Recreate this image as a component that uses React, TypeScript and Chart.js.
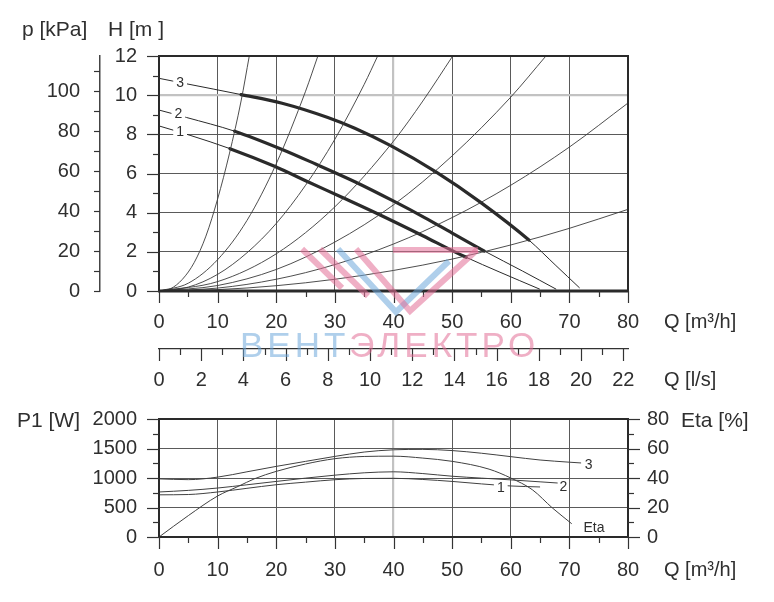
import React, { useEffect, useRef } from "react";
import { Chart, registerables } from "chart.js";

Chart.register(...registerables);

const FONT_FAMILY = '"Liberation Sans", Arial, Helvetica, sans-serif';
const INK = "#2f2f2f";
const GRID = "#5a5a5a";
const GRID_LIGHT = "#c2c2c2";

// ---------------- axes ----------------
const Q_M3H_TICKS = [0, 10, 20, 30, 40, 50, 60, 70, 80];
const Q_LS_TICKS = [0, 2, 4, 6, 8, 10, 12, 14, 16, 18, 20, 22];
const H_TICKS = [0, 2, 4, 6, 8, 10, 12];
const P_KPA_TICKS = [0, 20, 40, 60, 80, 100];
const P1_TICKS = [0, 500, 1000, 1500, 2000];
const ETA_TICKS = [0, 20, 40, 60, 80];
const Q_MAX = 80;
const H_MAX = 12;
const P1_MAX = 2000;
const ETA_MAX = 80;
const KPA_PER_M = 9.81;
const M3H_PER_LS = 3.6;
const LIGHT_GRID_Q = 40;
const LIGHT_GRID_H = 10;

// ---------------- pump curves H [m] vs Q [m3/h] ----------------
const PUMP1_Q = [0, 5.3, 12.1, 19.7, 25.1, 31.1, 37.1, 45, 50.1, 52.4, 58, 64.9];
const PUMP1_H = [8.43, 7.95, 7.27, 6.37, 5.62, 4.8, 3.97, 2.82, 2.05, 1.72, 0.98, 0.1];
const PUMP1_THICK = [12.1, 52.4];

const PUMP2_Q = [0, 4.7, 12.9, 20.9, 26.8, 33.4, 40.2, 45.3, 50, 55.5, 62, 67.7];
const PUMP2_H = [9.24, 8.86, 8.16, 7.24, 6.47, 5.58, 4.56, 3.75, 2.96, 2.04, 1.02, 0.1];
const PUMP2_THICK = [12.9, 55.5];

const PUMP3_Q = [0, 4.7, 14, 21, 28.8, 33.4, 39.6, 47.3, 54.8, 63.1, 67.7, 71.7];
const PUMP3_H = [10.86, 10.58, 10.03, 9.59, 8.86, 8.31, 7.41, 6.07, 4.54, 2.6, 1.3, 0.17];
const PUMP3_THICK = [14, 63.1];

// ---------------- system curves (thin fan from origin) ----------------
const SYS1_Q = [0, 2, 4, 6, 8, 10, 12, 14, 15.4];
const SYS1_H = [0, 0.12, 0.6, 1.45, 2.8, 4.7, 7.0, 9.7, 12];
const SYS2_Q = [0, 5, 10, 15, 20, 25, 27.1];
const SYS2_H = [0, 0.4, 1.6, 3.6, 6.5, 10.2, 12];
const SYS3_Q = [0, 5, 10, 15, 20, 25, 30, 35, 37.3];
const SYS3_H = [0, 0.2, 0.85, 1.95, 3.45, 5.4, 7.75, 10.55, 12];
const SYS4_Q = [0, 10, 20, 30, 40, 45, 50.1];
const SYS4_H = [0, 0.48, 1.9, 4.3, 7.65, 9.7, 12];
const SYS5_Q = [0, 10, 20, 30, 40, 50, 60, 66];
const SYS5_H = [0, 0.28, 1.1, 2.5, 4.4, 6.9, 9.9, 12];
const SYS6_Q = [0, 10, 20, 30, 40, 50, 60, 70, 80];
const SYS6_H = [0, 0.15, 0.6, 1.35, 2.4, 3.75, 5.4, 7.35, 9.6];
const SYS7_Q = [0, 10, 20, 30, 40, 50, 60, 70, 80];
const SYS7_H = [0, 0.07, 0.27, 0.6, 1.05, 1.63, 2.35, 3.2, 4.17];

// ---------------- power P1 [W] and efficiency ----------------
const P1_3_Q = [0, 5, 10, 15, 20, 25, 30, 35, 40, 45, 50, 55, 60, 65, 70, 72];
const P1_3_W = [985, 972, 1015, 1105, 1197, 1282, 1366, 1440, 1478, 1485, 1465, 1420, 1362, 1305, 1268, 1255];
const P1_2_Q = [0, 5, 10, 15, 20, 25, 30, 35, 40, 45, 50, 55, 60, 65, 68];
const P1_2_W = [763, 790, 830, 885, 942, 998, 1048, 1088, 1105, 1075, 1030, 998, 968, 935, 915];
const P1_1_Q = [0, 5, 10, 15, 20, 25, 30, 35, 40, 45, 50, 55, 60, 65];
const P1_1_W = [715, 720, 763, 825, 886, 930, 971, 992, 995, 975, 942, 900, 865, 848];
const ETA_Q = [0, 5, 10, 13.5, 16.3, 20, 25, 30, 35, 40, 45, 50, 56.3, 60, 63.7, 67.1, 70.4];
const ETA_PCT = [0, 14.5, 27.8, 34.3, 39.5, 44.5, 49.5, 53.1, 54.6, 54.8, 53.5, 51.3, 46, 40, 32, 19.7, 9];

// ---------------- curve labels ----------------
const TOP_LABEL_TEXT = ["3", "2", "1"];
const TOP_LABEL_Q = [3.6, 3.3, 3.6];
const TOP_LABEL_H = [10.66, 9.06, 8.12];
const BOT_LABEL_TEXT = ["1", "2", "3", "Eta"];
const BOT_LABEL_Q = [58.3, 69.0, 73.3, 72.4];
const BOT_LABEL_V = [840, 858, 1234, 6.5];
const BOT_LABEL_AXIS = ["y", "y", "y", "yEta"];

const WATERMARK_A = "ВЕНТ";
const WATERMARK_B = "ЭЛЕКТРО";

Chart.defaults.font.family = FONT_FAMILY;
Chart.defaults.color = INK;

const pts = (qs: number[], vs: number[]) => qs.map((q, i) => ({ x: q, y: vs[i] }));

function fixedTicks(values: number[]) {
  return (scale: any) => {
    scale.ticks = values.map((v) => ({ value: v }));
  };
}

function fixedSize(size: number) {
  return (s: any) => {
    if (s.isHorizontal()) s.height = size;
    else s.width = size;
    s.paddingTop = 0;
    s.paddingBottom = 0;
    s.paddingLeft = 0;
    s.paddingRight = 0;
  };
}

type TickDef = { id: string; step: number; major: number; majorLen: number; minorLen: number; max?: number };

function drawTickMarks(chart: any, defs: TickDef[]) {
  const ctx = chart.ctx;
  ctx.save();
  ctx.strokeStyle = "#333";
  ctx.lineWidth = 1.2;
  for (const d of defs) {
    const s = chart.scales[d.id];
    const hi = d.max ?? s.max;
    const n = Math.floor(hi / d.step + 1e-6);
    for (let i = 0; i <= n; i++) {
      const v = i * d.step;
      const r = v / d.major;
      const major = Math.abs(r - Math.round(r)) < 1e-6;
      const len = major ? d.majorLen : d.minorLen;
      const p = Math.round(s.getPixelForValue(v)) + 0.5;
      ctx.beginPath();
      if (s.position === "left") {
        ctx.moveTo(s.right, p);
        ctx.lineTo(s.right - len, p);
      } else if (s.position === "right") {
        ctx.moveTo(s.left, p);
        ctx.lineTo(s.left + len, p);
      } else {
        ctx.moveTo(p, s.top);
        ctx.lineTo(p, s.top + len);
      }
      ctx.stroke();
    }
  }
  ctx.restore();
}

type CurveLabel = { text: string; x: number; y: number; xId: string; yId: string; align: CanvasTextAlign; bg: boolean };

function drawCurveLabels(chart: any, labels: CurveLabel[], size: number) {
  const ctx = chart.ctx;
  ctx.save();
  ctx.font = `${size}px ${FONT_FAMILY}`;
  ctx.textBaseline = "middle";
  for (const l of labels) {
    const px = chart.scales[l.xId].getPixelForValue(l.x);
    const py = chart.scales[l.yId].getPixelForValue(l.y);
    const w = ctx.measureText(l.text).width;
    const left = l.align === "left" ? px : px - w / 2;
    if (l.bg) {
      ctx.fillStyle = "#ffffff";
      ctx.fillRect(left - 3, py - 5, w + 6, 10);
    }
    ctx.fillStyle = INK;
    ctx.textAlign = l.align;
    ctx.fillText(l.text, px, py + 0.5);
  }
  ctx.restore();
}

function drawText(ctx: CanvasRenderingContext2D, text: string, x: number, y: number, size = 20) {
  ctx.save();
  ctx.font = `${size}px ${FONT_FAMILY}`;
  ctx.fillStyle = INK;
  ctx.textAlign = "left";
  ctx.textBaseline = "middle";
  ctx.fillText(text, x, y);
  ctx.restore();
}

function drawFrame(chart: any, bottomWidth: number) {
  const ctx = chart.ctx;
  const a = chart.chartArea;
  ctx.save();
  ctx.strokeStyle = "#2a2a2a";
  ctx.lineWidth = 2;
  ctx.strokeRect(a.left, a.top, a.right - a.left, a.bottom - a.top);
  ctx.lineWidth = bottomWidth;
  ctx.beginPath();
  ctx.moveTo(a.left - 1, a.bottom);
  ctx.lineTo(a.right + 1, a.bottom);
  ctx.stroke();
  ctx.restore();
}

function drawWatermark(ctx: any) {
  ctx.save();
  const pink = "rgba(226,110,150,0.55)";
  const blue = "rgba(110,168,218,0.55)";
  ctx.lineWidth = 6;
  ctx.lineCap = "butt";
  ctx.lineJoin = "miter";
  const seg = (color: string, p: number[][]) => {
    ctx.strokeStyle = color;
    ctx.beginPath();
    ctx.moveTo(p[0][0], p[0][1]);
    for (let i = 1; i < p.length; i++) ctx.lineTo(p[i][0], p[i][1]);
    ctx.stroke();
  };
  seg(pink, [[302, 249], [342, 288]]);
  seg(pink, [[320, 249], [368, 296]]);
  seg(blue, [[338, 249], [396, 312], [449, 261]]);
  seg(pink, [[356, 249], [410, 311], [477, 250]]);
  seg(pink, [[393, 250], [478, 250]]);
  ctx.font = `35px ${FONT_FAMILY}`;
  ctx.textBaseline = "alphabetic";
  ctx.textAlign = "left";
  try {
    ctx.letterSpacing = "4px";
  } catch (e) {}
  ctx.fillStyle = blue;
  ctx.fillText(WATERMARK_A, 240, 357);
  const w = ctx.measureText(WATERMARK_A).width;
  ctx.fillStyle = pink;
  ctx.fillText(WATERMARK_B, 240 + w, 357);
  ctx.restore();
}

const tickFont = { family: FONT_FAMILY, size: 20 };
const gridQ = {
  drawTicks: false,
  color: (c: any) => (c.tick && c.tick.value === LIGHT_GRID_Q ? GRID_LIGHT : GRID),
  lineWidth: (c: any) => (c.tick && c.tick.value === LIGHT_GRID_Q ? 2.2 : 1),
};

function sysDataset(qs: number[], hs: number[]) {
  return {
    data: pts(qs, hs),
    borderColor: "#3a3a3a",
    borderWidth: 0.9,
    pointRadius: 0,
    cubicInterpolationMode: "monotone",
    xAxisID: "x",
    yAxisID: "y",
  };
}

function pumpDataset(qs: number[], hs: number[], thick: number[]) {
  return {
    data: pts(qs, hs),
    borderColor: "#2a2a2a",
    borderWidth: 1,
    borderCapStyle: "round",
    borderJoinStyle: "round",
    pointRadius: 0,
    cubicInterpolationMode: "monotone",
    xAxisID: "x",
    yAxisID: "y",
    segment: {
      borderWidth: (ctx: any) =>
        ctx.p0.parsed.x >= thick[0] - 1e-6 && ctx.p1.parsed.x <= thick[1] + 1e-6 ? 3.2 : 1,
    },
  };
}

function lowDataset(qs: number[], vs: number[], yId: string) {
  return {
    data: pts(qs, vs),
    borderColor: "#404040",
    borderWidth: 1,
    pointRadius: 0,
    cubicInterpolationMode: "monotone",
    xAxisID: "x",
    yAxisID: yId,
  };
}

const labelTicks = { font: tickFont, color: INK, maxRotation: 0, autoSkip: false, callback: (v: any) => String(v) };

function topConfig(): any {
  const labels: CurveLabel[] = TOP_LABEL_TEXT.map((t, i) => ({
    text: t, x: TOP_LABEL_Q[i], y: TOP_LABEL_H[i], xId: "x", yId: "y", align: "center", bg: true,
  }));
  return {
    type: "line",
    data: {
      datasets: [
        sysDataset(SYS1_Q, SYS1_H),
        sysDataset(SYS2_Q, SYS2_H),
        sysDataset(SYS3_Q, SYS3_H),
        sysDataset(SYS4_Q, SYS4_H),
        sysDataset(SYS5_Q, SYS5_H),
        sysDataset(SYS6_Q, SYS6_H),
        sysDataset(SYS7_Q, SYS7_H),
        pumpDataset(PUMP1_Q, PUMP1_H, PUMP1_THICK),
        pumpDataset(PUMP2_Q, PUMP2_H, PUMP2_THICK),
        pumpDataset(PUMP3_Q, PUMP3_H, PUMP3_THICK),
      ],
    },
    options: {
      animation: false,
      responsive: false,
      devicePixelRatio: 1,
      events: [],
      layout: { padding: { top: 56, right: 146, bottom: 0, left: 0 } },
      plugins: { legend: { display: false }, tooltip: { enabled: false } },
      scales: {
        x: {
          type: "linear", position: "bottom", min: 0, max: Q_MAX,
          afterFit: fixedSize(58),
          afterBuildTicks: fixedTicks(Q_M3H_TICKS),
          ticks: { ...labelTicks, padding: 19 },
          grid: gridQ,
          border: { display: false },
        },
        xls: {
          type: "linear", position: "bottom", min: 0, max: Q_MAX / M3H_PER_LS,
          afterFit: fixedSize(51),
          afterBuildTicks: fixedTicks(Q_LS_TICKS),
          ticks: { ...labelTicks, padding: 19 },
          grid: { drawOnChartArea: false, drawTicks: false },
          border: { display: true, color: "#333", width: 1.3 },
        },
        y: {
          type: "linear", position: "left", weight: 0, min: 0, max: H_MAX,
          afterFit: fixedSize(59),
          afterBuildTicks: fixedTicks(H_TICKS),
          ticks: { ...labelTicks, padding: 22 },
          grid: {
            drawTicks: false,
            color: (c: any) => (c.tick && c.tick.value === LIGHT_GRID_H ? GRID_LIGHT : GRID),
            lineWidth: (c: any) => (c.tick && c.tick.value === LIGHT_GRID_H ? 2.2 : 1),
          },
          border: { display: false },
        },
        yp: {
          type: "linear", position: "left", weight: 1, min: 0, max: H_MAX * KPA_PER_M,
          afterFit: fixedSize(100),
          afterBuildTicks: fixedTicks(P_KPA_TICKS),
          ticks: { ...labelTicks, padding: 20 },
          grid: { drawOnChartArea: false, drawTicks: false },
          border: { display: true, color: "#444", width: 1.5 },
        },
      },
    },
    plugins: [
      {
        id: "topDecor",
        afterDraw(chart: any) {
          const ctx = chart.ctx;
          drawFrame(chart, 3);
          drawTickMarks(chart, [
            { id: "x", step: 5, major: 10, majorLen: 12, minorLen: 6 },
            { id: "xls", step: 1, major: 2, majorLen: 12, minorLen: 6, max: 22 },
            { id: "y", step: 1, major: 2, majorLen: 12, minorLen: 6 },
            { id: "yp", step: 10, major: 20, majorLen: 6, minorLen: 6, max: 110 },
          ]);
          drawCurveLabels(chart, labels, 14);
          drawText(ctx, "p [kPa]", 22, 30, 21);
          drawText(ctx, "H [m ]", 108, 30, 21);
          drawText(ctx, "Q [m³/h]", 664, 322);
          drawText(ctx, "Q [l/s]", 664, 380);
          drawWatermark(ctx);
        },
      },
    ],
  };
}

function bottomConfig(): any {
  const labels: CurveLabel[] = BOT_LABEL_TEXT.map((t, i) => ({
    text: t, x: BOT_LABEL_Q[i], y: BOT_LABEL_V[i], xId: "x", yId: BOT_LABEL_AXIS[i],
    align: t === "Eta" ? "left" : "center", bg: i === 0,
  }));
  return {
    type: "line",
    data: {
      datasets: [
        lowDataset(P1_3_Q, P1_3_W, "y"),
        lowDataset(P1_2_Q, P1_2_W, "y"),
        lowDataset(P1_1_Q, P1_1_W, "y"),
        lowDataset(ETA_Q, ETA_PCT, "yEta"),
      ],
    },
    options: {
      animation: false,
      responsive: false,
      devicePixelRatio: 1,
      events: [],
      layout: { padding: { top: 19, right: 0, bottom: 0, left: 0 } },
      plugins: { legend: { display: false }, tooltip: { enabled: false } },
      scales: {
        x: {
          type: "linear", position: "bottom", min: 0, max: Q_MAX,
          afterFit: fixedSize(65),
          afterBuildTicks: fixedTicks(Q_M3H_TICKS),
          ticks: { ...labelTicks, padding: 21 },
          grid: gridQ,
          border: { display: false },
        },
        y: {
          type: "linear", position: "left", min: 0, max: P1_MAX,
          afterFit: fixedSize(159),
          afterBuildTicks: fixedTicks(P1_TICKS),
          ticks: { ...labelTicks, padding: 22 },
          grid: { drawTicks: false, color: GRID, lineWidth: 1 },
          border: { display: false },
        },
        yEta: {
          type: "linear", position: "right", min: 0, max: ETA_MAX,
          afterFit: fixedSize(146),
          afterBuildTicks: fixedTicks(ETA_TICKS),
          ticks: { ...labelTicks, padding: 19 },
          grid: { drawOnChartArea: false, drawTicks: false },
          border: { display: false },
        },
      },
    },
    plugins: [
      {
        id: "botDecor",
        afterDraw(chart: any) {
          const ctx = chart.ctx;
          drawFrame(chart, 2);
          drawTickMarks(chart, [
            { id: "x", step: 5, major: 10, majorLen: 12, minorLen: 6 },
            { id: "y", step: 250, major: 500, majorLen: 12, minorLen: 6 },
            { id: "yEta", step: 10, major: 20, majorLen: 12, minorLen: 6 },
          ]);
          drawCurveLabels(chart, labels, 14);
          drawText(ctx, "P1 [W]", 17, 21, 21);
          drawText(ctx, "Eta [%]", 681, 21, 21);
          drawText(ctx, "Q [m³/h]", 664, 170);
        },
      },
    ],
  };
}

export default function App() {
  const topRef = useRef<HTMLCanvasElement | null>(null);
  const botRef = useRef<HTMLCanvasElement | null>(null);
  useEffect(() => {
    const top = new Chart(topRef.current as HTMLCanvasElement, topConfig());
    const bot = new Chart(botRef.current as HTMLCanvasElement, bottomConfig());
    return () => {
      top.destroy();
      bot.destroy();
    };
  }, []);
  return (
    <div style={{ position: "absolute", left: 0, top: 0, width: 774, height: 602, background: "#ffffff" }}>
      <canvas ref={topRef} width={774} height={400} style={{ position: "absolute", left: 0, top: 0, width: 774, height: 400, display: "block" }} />
      <canvas ref={botRef} width={774} height={202} style={{ position: "absolute", left: 0, top: 400, width: 774, height: 202, display: "block" }} />
    </div>
  );
}
